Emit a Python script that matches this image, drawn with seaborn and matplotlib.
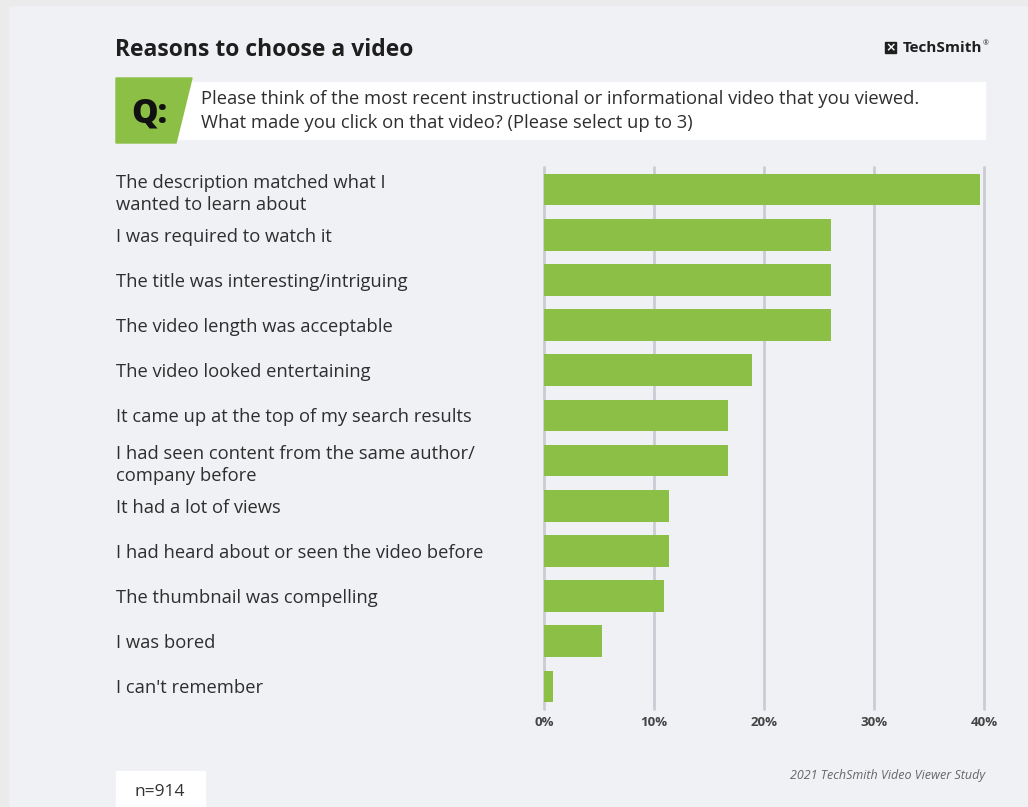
import matplotlib
matplotlib.use("Agg")
import matplotlib.pyplot as plt
import matplotlib.patches as mpatches
import seaborn as sns
import pandas as pd

reasons = [
    "The description matched what I\nwanted to learn about",
    "I was required to watch it",
    "The title was interesting/intriguing",
    "The video length was acceptable",
    "The video looked entertaining",
    "It came up at the top of my search results",
    "I had seen content from the same author/\ncompany before",
    "It had a lot of views",
    "I had heard about or seen the video before",
    "The thumbnail was compelling",
    "I was bored",
    "I can't remember",
]
percent = [39.6, 26.1, 26.1, 26.1, 18.9, 16.7, 16.7, 11.4, 11.4, 10.9, 5.3, 0.8]
xticks = [0, 10, 20, 30, 40]
xtick_labels = ["0%", "10%", "20%", "30%", "40%"]

title = "Reasons to choose a video"
question = ("Please think of the most recent instructional or informational video that you viewed.\n"
            "What made you click on that video? (Please select up to 3)")
sample = "n=914"
source = "2021 TechSmith Video Viewer Study"

df = pd.DataFrame({"reason": reasons, "percent": percent})

sns.set_theme(style="white")
plt.rcParams["font.family"] = ["Open Sans", "DejaVu Sans"]

W, H = 1028, 807
BG = "#f0f1f5"
GREEN = "#8bbf45"
fig = plt.figure(figsize=(W / 100, H / 100), dpi=100, facecolor=BG)

def fx(px):
    return px / W

def fy(py):
    return 1 - py / H

# outer margin strips
fig.patches.append(mpatches.Rectangle((0, 0), fx(8), 1, transform=fig.transFigure,
                                      color="#ebebeb", zorder=0))
fig.patches.append(mpatches.Rectangle((0, fy(5)), 1, 5 / H, transform=fig.transFigure,
                                      color="#ebebeb", zorder=0))

ax = fig.add_axes([fx(544), fy(709), fx(984) - fx(544), fy(167) - fy(709)])
ax.set_facecolor("none")
sns.barplot(data=df, x="percent", y="reason", orient="h", color=GREEN,
            width=0.7, saturation=1, ax=ax, zorder=3, edgecolor=GREEN, linewidth=0)
ax.set_xlim(0, 40)
ax.set_ylim(11.5, -0.5)
ax.set_xticks(xticks)
ax.set_xticklabels(xtick_labels, fontsize=9.5, fontweight="bold", color="#444444")
ax.grid(axis="x", color="#c9cdd3", linewidth=2, zorder=0)
ax.grid(axis="y", visible=False)
for line in ax.get_xgridlines():
    line.set_clip_on(False)
for s in ax.spines.values():
    s.set_visible(False)
ax.tick_params(axis="both", length=0)
ax.tick_params(axis="x", pad=5)
ax.tick_params(axis="y", pad=(544 - 116) * 0.72)
for lab in ax.get_yticklabels():
    lab.set_ha("left")
    lab.set_fontsize(13.2)
    lab.set_color("#2e2e2e")
    lab.set_linespacing(1.28)
ax.set_xlabel("")
ax.set_ylabel("")

# title
fig.text(fx(115), fy(50), title, fontsize=16.5, fontweight="bold", color="#1e1e1e",
         ha="left", va="center")

# logo
logo_x, logo_y = 885, 47
fig.patches.append(mpatches.Rectangle((fx(logo_x), fy(logo_y + 6)), fx(11), 11 / H,
                                      transform=fig.transFigure, color="#1e1e1e", zorder=2))
fig.text(fx(logo_x + 5.5), fy(logo_y + 0.5), "×", fontsize=9, color="white",
         ha="center", va="center", fontweight="bold", zorder=3, family=["DejaVu Sans"])
fig.text(fx(982), fy(48), "TechSmith", fontsize=11, fontweight="bold", color="#1e1e1e",
         ha="right", va="center")
fig.text(fx(983), fy(44), "®", fontsize=5, color="#1e1e1e", ha="left", va="center")

# question box
fig.patches.append(mpatches.Rectangle((fx(116), fy(139)), fx(985) - fx(116), fy(82) - fy(139),
                                      transform=fig.transFigure, color="white", zorder=1))
green = mpatches.Polygon([(fx(116), fy(78)), (fx(192), fy(78)), (fx(176), fy(143)), (fx(116), fy(143))],
                         closed=True, transform=fig.transFigure, color=GREEN, zorder=2)
fig.patches.append(green)
fig.text(fx(149), fy(113), "Q:", fontsize=24, fontweight="black", color="#111111",
         ha="center", va="center", zorder=3)
fig.text(fx(201), fy(111), question, fontsize=13.2, color="#2e2e2e", ha="left", va="center",
         linespacing=1.38, zorder=3)

# sample size box
fig.patches.append(mpatches.Rectangle((fx(116), 0), fx(205) - fx(116), fy(771),
                                      transform=fig.transFigure, color="white", zorder=1))
fig.text(fx(160), fy(792), sample, fontsize=12.5, color="#333333", ha="center", va="center", zorder=3)

# source
fig.text(fx(985), fy(776), source, fontsize=9, style="italic", color="#666666",
         ha="right", va="center")

fig.savefig("out.png", dpi=100, facecolor=BG)
